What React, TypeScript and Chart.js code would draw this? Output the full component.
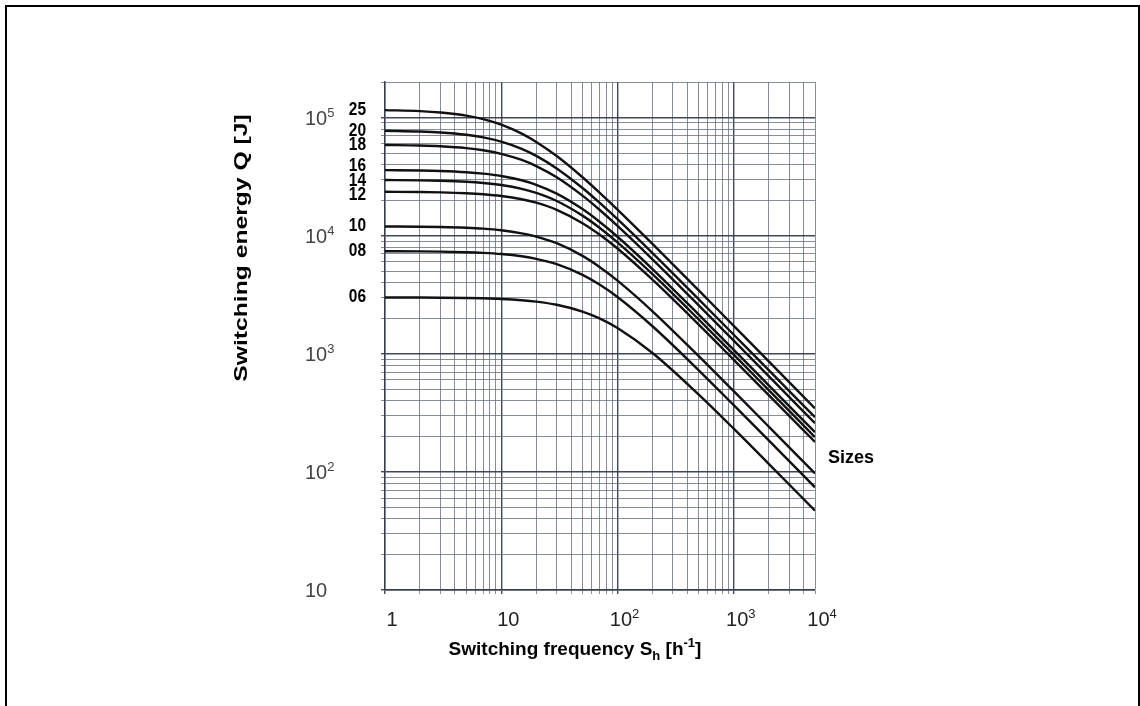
import React, { useEffect, useRef } from "react";
import { Chart, registerables } from "chart.js";

Chart.register(...registerables);

// Switching frequency S_h [1/h] (read along the log grid)
const frequency = [1, 2, 3, 5, 7, 10, 15, 20, 30, 50, 70, 100, 200, 500, 1000, 2000, 5000];

// Sizes (curve labels)
const sizes = ["25", "20", "18", "16", "14", "12", "10", "08", "06"];

// Switching energy Q [J] per size
const q25 = [115600, 113300, 110300, 103800, 96900, 87000, 73100, 62200, 47200, 31240, 23170, 16630, 8510, 3440, 1723, 862, 345];
const q20 = [77360, 76220, 74800, 71500, 67900, 62500, 54250, 47350, 37100, 25320, 19020, 13780, 7120, 2890, 1449, 726, 290];
const q18 = [58620, 57940, 57080, 55070, 52820, 49320, 43740, 38830, 31180, 21810, 16580, 12110, 6310, 2570, 1290, 646, 258];
const q16 = [35860, 35600, 35270, 34460, 33540, 32030, 29440, 26980, 22720, 16790, 13120, 9790, 5220, 2146, 1080, 541, 217];
const q14 = [29600, 29410, 29170, 28600, 27930, 26820, 24890, 23000, 19650, 14780, 11670, 8770, 4720, 1950, 982, 492, 197];
const q12 = [23530, 23410, 23260, 22880, 22430, 21680, 20350, 19010, 16540, 12760, 10220, 7780, 4240, 1765, 889, 447, 179];
const q10 = [11970, 11910, 11840, 11660, 11460, 11110, 10470, 9830, 8630, 6740, 5435, 4160, 2290, 955, 482, 242, 97];
const q08 = [7386, 7361, 7328, 7248, 7152, 6989, 6687, 6367, 5737, 4662, 3858, 3024, 1710, 725, 367, 185, 74];
const q06 = [2997, 2992, 2985, 2968, 2948, 2912, 2843, 2767, 2603, 2279, 1994, 1654, 1015, 451, 232, 117, 47];

const series = [q25, q20, q18, q16, q14, q12, q10, q08, q06];

// Axis ranges and labelled ticks
const xRange = [1, 5000];
const xTickValues = [1, 10, 100, 1000, 5000];
const xTickLabels = ["1", "10", "10²", "10³", "10⁴"];
const yRange = [10, 200000];
const yTickValues = [10, 100, 1000, 10000, 100000];
const yTickLabels = ["10", "10²", "10³", "10⁴", "10⁵"];

const FONT = "'Liberation Sans', Arial, Helvetica, sans-serif";
const SUP: Record<string, string> = { "¹": "1", "²": "2", "³": "3", "⁴": "4", "⁵": "5", "⁶": "6" };

function logGrid(min: number, max: number): number[] {
  const out: number[] = [];
  for (let p = Math.floor(Math.log10(min)); Math.pow(10, p) <= max; p++) {
    for (let m = 1; m < 10; m++) {
      const v = m * Math.pow(10, p);
      if (v >= min - 1e-9 && v <= max + 1e-9) out.push(v);
    }
  }
  return out;
}

function isDecade(v: number): boolean {
  const l = Math.log10(v);
  return Math.abs(l - Math.round(l)) < 1e-9;
}

type Seg = { t: string; s?: "sub" | "sup" };

function splitSup(label: string): Seg[] {
  let base = "";
  let sup = "";
  for (const ch of label) {
    if (SUP[ch]) sup += SUP[ch];
    else base += ch;
  }
  const segs: Seg[] = [{ t: base }];
  if (sup) segs.push({ t: sup, s: "sup" });
  return segs;
}

function drawRich(
  ctx: CanvasRenderingContext2D,
  segs: Seg[],
  x: number,
  y: number,
  size: number,
  weight: string,
  align: "center" | "left",
  supRatio = 0.68
) {
  const small = Math.round(size * supRatio);
  const font = (sz: number) => `${weight} ${sz}px ${FONT}`;
  let w = 0;
  for (const s of segs) {
    ctx.font = font(s.s ? small : size);
    w += ctx.measureText(s.t).width;
  }
  let cx = align === "center" ? x - w / 2 : x;
  ctx.textAlign = "left";
  ctx.textBaseline = "alphabetic";
  for (const s of segs) {
    ctx.font = font(s.s ? small : size);
    const dy = s.s === "sub" ? size * 0.28 : s.s === "sup" ? -size * 0.4 : 0;
    ctx.fillText(s.t, cx, y + dy);
    cx += ctx.measureText(s.t).width;
  }
}

function clusterLabels(ys: number[], gap: number): number[] {
  let groups = ys.map((y, i) => ({ items: [i], center: y }));
  let merged = true;
  while (merged) {
    merged = false;
    for (let i = 0; i < groups.length - 1; i++) {
      const a = groups[i];
      const b = groups[i + 1];
      const aBottom = a.center + ((a.items.length - 1) * gap) / 2;
      const bTop = b.center - ((b.items.length - 1) * gap) / 2;
      if (bTop - aBottom < gap) {
        const items = a.items.concat(b.items);
        const center = items.reduce((s, k) => s + ys[k], 0) / items.length;
        groups.splice(i, 2, { items, center });
        merged = true;
        break;
      }
    }
  }
  const out = new Array(ys.length).fill(0);
  for (const g of groups) {
    g.items.forEach((k, j) => {
      out[k] = g.center + (j - (g.items.length - 1) / 2) * gap;
    });
  }
  return out;
}

const textPlugin = {
  id: "chartTexts",
  afterDraw(chart: any) {
    const { ctx, chartArea: a, scales } = chart;
    const xs = scales.x;
    const ys = scales.y;
    ctx.save();

    // x tick labels
    ctx.fillStyle = "#222";
    xTickValues.forEach((v, i) => {
      drawRich(ctx, splitSup(xTickLabels[i]), xs.getPixelForValue(v) + 7, a.bottom + 36, 20, "normal", "center", 0.66);
    });

    // y tick labels
    ctx.fillStyle = "#444";
    yTickValues.forEach((v, i) => {
      drawRich(ctx, splitSup(yTickLabels[i]), a.left - 80, ys.getPixelForValue(v) + 7, 20, "normal", "left", 0.66);
    });

    ctx.fillStyle = "#000";

    // size labels left of the plot
    const pos = series.map((s) => ys.getPixelForValue(s[0]));
    const placed = clusterLabels(pos, 14.5);
    ctx.font = `bold 18px ${FONT}`;
    ctx.textAlign = "right";
    ctx.textBaseline = "middle";
    placed.forEach((y, i) => {
      ctx.save();
      ctx.translate(a.left - 19, y);
      ctx.scale(0.86, 1);
      ctx.fillText(sizes[i], 0, 0);
      ctx.restore();
    });

    // "Sizes" label at the right
    const yS = (ys.getPixelForValue(q12[q12.length - 1]) + ys.getPixelForValue(q10[q10.length - 1])) / 2;
    ctx.textAlign = "left";
    ctx.textBaseline = "middle";
    ctx.font = `bold 18px ${FONT}`;
    ctx.fillText("Sizes", a.right + 13, yS);

    // x title
    drawRich(
      ctx,
      [{ t: "Switching frequency S" }, { t: "h", s: "sub" }, { t: " [h" }, { t: "-1", s: "sup" }, { t: "]" }],
      (a.left + a.right) / 2 - 25,
      655,
      19,
      "bold",
      "center"
    );

    // y title
    ctx.save();
    ctx.translate(247, 248);
    ctx.rotate(-Math.PI / 2);
    ctx.scale(1.3, 1);
    drawRich(ctx, [{ t: "Switching energy Q [J]" }], 0, 0, 19, "bold", "center");
    ctx.restore();

    ctx.restore();
  },
};

const gridColor = (c: any) =>
  c.tick && isDecade(c.tick.value) ? "rgba(55,62,78,0.95)" : "rgba(95,104,122,0.75)";
const gridWidth = (c: any) => (c.tick && isDecade(c.tick.value) ? 1.4 : 1);

export default function App() {
  const ref = useRef<HTMLCanvasElement>(null);

  useEffect(() => {
    document.body.style.margin = "0";
    document.body.style.overflow = "hidden";
    const canvas = ref.current!;
    const chart = new Chart(canvas, {
      type: "line",
      data: {
        datasets: series.map((s, i) => ({
          label: sizes[i],
          data: s.map((q, j) => ({ x: frequency[j], y: q })),
          borderColor: "#111",
          borderWidth: 2.4,
          pointRadius: 0,
          fill: false,
          cubicInterpolationMode: "monotone" as const,
        })),
      },
      options: {
        responsive: false,
        animation: false,
        devicePixelRatio: 1,
        layout: { padding: { left: 303, right: 325, top: 82, bottom: 0 }, autoPadding: false },
        plugins: { legend: { display: false }, tooltip: { enabled: false } },
        scales: {
          x: {
            type: "logarithmic",
            position: "bottom",
            min: xRange[0],
            max: xRange[1],
            afterBuildTicks: (s: any) => {
              s.ticks = logGrid(xRange[0], xRange[1]).map((v) => ({ value: v }));
            },
            afterFit: (s: any) => {
              s.height = 116;
              s.paddingLeft = 0;
              s.paddingRight = 0;
            },
            grid: { color: gridColor, lineWidth: gridWidth, tickLength: 4, drawTicks: true },
            border: { display: true, color: "rgba(55,62,78,0.95)", width: 1.4 },
            ticks: { display: false, autoSkip: false },
          },
          y: {
            type: "logarithmic",
            position: "left",
            min: yRange[0],
            max: yRange[1],
            afterBuildTicks: (s: any) => {
              s.ticks = logGrid(yRange[0], yRange[1]).map((v) => ({ value: v }));
            },
            afterFit: (s: any) => {
              s.width = 82;
              s.paddingTop = 0;
              s.paddingBottom = 0;
            },
            grid: { color: gridColor, lineWidth: gridWidth, tickLength: 4, drawTicks: true },
            border: { display: true, color: "rgba(55,62,78,0.95)", width: 1.4 },
            ticks: { display: false, autoSkip: false },
          },
        },
      },
      plugins: [textPlugin],
    } as any);
    return () => chart.destroy();
  }, []);

  return (
    <div style={{ position: "relative", width: 1140, height: 706, overflow: "hidden", background: "#fff" }}>
      <canvas ref={ref} width={1140} height={706} style={{ position: "absolute", left: 0, top: 0 }} />
      <div
        style={{
          position: "absolute",
          left: 5,
          top: 5,
          width: 1135,
          height: 720,
          boxSizing: "border-box",
          borderTop: "2px solid #000",
          borderLeft: "2px solid #000",
          borderRight: "2px solid #000",
          pointerEvents: "none",
        }}
      />
    </div>
  );
}
